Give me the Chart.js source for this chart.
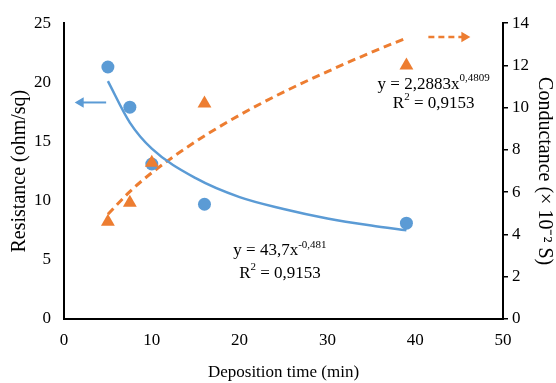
<!DOCTYPE html>
<html><head><meta charset="utf-8">
<script src="https://cdn.jsdelivr.net/npm/chart.js@4.4.0/dist/chart.umd.min.js"></script>
<style>html,body{margin:0;padding:0;background:#fff}#wrap{width:556px;height:383px}</style>
</head><body><div id="wrap"><canvas id="c" width="556" height="383"></canvas></div>
<script>
const depTime = [5, 7.5, 10, 16, 39];
const resistance = [21.3, 17.9, 13.1, 9.7, 8.1];
const conductance = [4.6, 5.5, 7.4, 10.2, 12.0];
const trendX = [5, 7.5, 10, 15, 20, 25, 30, 35, 39];
const resistanceTrend = [20.1, 16.6, 14.4, 11.9, 10.3, 9.3, 8.5, 7.9, 7.5];
const conductanceTrend = [4.96, 6.03, 6.92, 8.40, 9.65, 10.74, 11.71, 12.62, 13.3];
const leftArrowX = [1.9, 4.8];
const leftArrowY = [18.3, 18.3];
const rightArrowX = [41.5, 45.6];
const rightArrowY = [13.35, 13.35];
const xTicks = [0, 10, 20, 30, 40, 50];
const leftTicks = [0, 5, 10, 15, 20, 25];
const rightTicks = [0, 2, 4, 6, 8, 10, 12, 14];

const BLUE = '#5B9BD5', ORANGE = '#ED7D31';
const FONT = '"Liberation Serif", "Times New Roman", serif';
const pts = (xs, ys) => xs.map((x, i) => ({x, y: ys[i]}));

const eqPlugin = {
  id: 'eq',
  afterDatasetsDraw(chart) {
    const {ctx, scales} = chart;
    function drawEq(parts, cx, cy) {
      let w = 0;
      parts.forEach(p => { ctx.font = (p.sup ? '11px ' : '17px ') + FONT; w += ctx.measureText(p.t).width; });
      let x = cx - w / 2;
      ctx.textBaseline = 'middle'; ctx.textAlign = 'left'; ctx.fillStyle = '#000';
      parts.forEach(p => {
        ctx.font = (p.sup ? '11px ' : '17px ') + FONT;
        ctx.fillText(p.t, x, p.sup ? cy - 6 : cy);
        x += ctx.measureText(p.t).width;
      });
    }
    ctx.save();
    const xs = scales.x, yl = scales.yL, yr = scales.yR;
    drawEq([{t: 'y = 2,2883x'}, {t: '0,4809', sup: true}], xs.getPixelForValue(42.1), yr.getPixelForValue(11.1));
    drawEq([{t: 'R'}, {t: '2', sup: true}, {t: ' = 0,9153'}], xs.getPixelForValue(42.1), yr.getPixelForValue(10.2));
    drawEq([{t: 'y = 43,7x'}, {t: '-0,481', sup: true}], xs.getPixelForValue(24.6), yl.getPixelForValue(5.77));
    drawEq([{t: 'R'}, {t: '2', sup: true}, {t: ' = 0,9153'}], xs.getPixelForValue(24.6), yl.getPixelForValue(3.85));
    ctx.restore();
  }
};

new Chart(document.getElementById('c'), {
  type: 'scatter',
  data: {
    datasets: [
      {type: 'line', data: pts(trendX, conductanceTrend), yAxisID: 'yR', borderColor: ORANGE, borderWidth: 3, borderDash: [8, 5], pointRadius: 0, cubicInterpolationMode: 'monotone', fill: false, order: 5},
      {type: 'line', data: pts(trendX, resistanceTrend), yAxisID: 'yL', borderColor: BLUE, borderWidth: 2.5, pointRadius: 0, cubicInterpolationMode: 'monotone', fill: false, order: 4},
      {type: 'line', data: pts(leftArrowX, leftArrowY), yAxisID: 'yL', borderColor: BLUE, borderWidth: 2, pointRadius: [6, 0], pointStyle: 'triangle', rotation: -90, pointBackgroundColor: BLUE, pointBorderColor: BLUE, pointBorderWidth: 0, fill: false, order: 4},
      {type: 'line', data: pts(rightArrowX, rightArrowY), yAxisID: 'yR', borderColor: ORANGE, borderWidth: 2.5, borderDash: [6, 4], pointRadius: [0, 6], pointStyle: 'triangle', rotation: 90, pointBackgroundColor: ORANGE, pointBorderColor: ORANGE, pointBorderWidth: 0, fill: false, order: 4},
      {data: pts(depTime, resistance), yAxisID: 'yL', pointStyle: 'circle', pointRadius: 6.5, pointBackgroundColor: BLUE, pointBorderWidth: 0, order: 2},
      {data: pts(depTime, conductance), yAxisID: 'yR', pointStyle: 'triangle', pointRadius: 8, pointBackgroundColor: ORANGE, pointBorderWidth: 0, order: 1}
    ]
  },
  options: {
    responsive: false, animation: false, clip: false,
    layout: {padding: {top: 20, left: 0, right: 0, bottom: 0}},
    plugins: {legend: {display: false}, tooltip: {enabled: false}},
    scales: {
      x: {
        type: 'linear', min: 0, max: 50,
        afterBuildTicks: s => { s.ticks = xTicks.map(v => ({value: v})); },
        afterFit: s => { s.height = 64; },
        grid: {display: false, drawTicks: false},
        border: {display: true, color: '#000', width: 2},
        ticks: {color: '#000', font: {family: FONT, size: 17}, padding: 11, maxRotation: 0},
        title: {display: true, text: 'Deposition time (min)', color: '#000', font: {family: FONT, size: 17}, padding: {top: 0, bottom: 0}}
      },
      yL: {
        position: 'left', min: 0, max: 25,
        afterBuildTicks: s => { s.ticks = leftTicks.map(v => ({value: v})); },
        afterFit: s => { s.width = 64; },
        grid: {display: false, drawTicks: false},
        border: {display: true, color: '#000', width: 2},
        ticks: {color: '#000', font: {family: FONT, size: 17}, padding: 13},
        title: {display: true, text: 'Resistance (ohm/sq)', color: '#000', font: {family: FONT, size: 20}, padding: {top: 8, bottom: 0}}
      },
      yR: {
        position: 'right', min: 0, max: 14,
        afterBuildTicks: s => { s.ticks = rightTicks.map(v => ({value: v})); },
        afterFit: s => { s.width = 53; },
        grid: {display: true, drawOnChartArea: false, drawTicks: true, tickLength: 5, color: '#000', lineWidth: 1.5},
        border: {display: true, color: '#000', width: 2},
        ticks: {color: '#000', font: {family: FONT, size: 17}, padding: 4},
        title: {display: true, text: 'Conductance (× 10⁻² S)', color: '#000', font: {family: FONT, size: 20}, padding: {top: 0, bottom: 0}}
      }
    }
  },
  plugins: [eqPlugin]
});
</script></body></html>
